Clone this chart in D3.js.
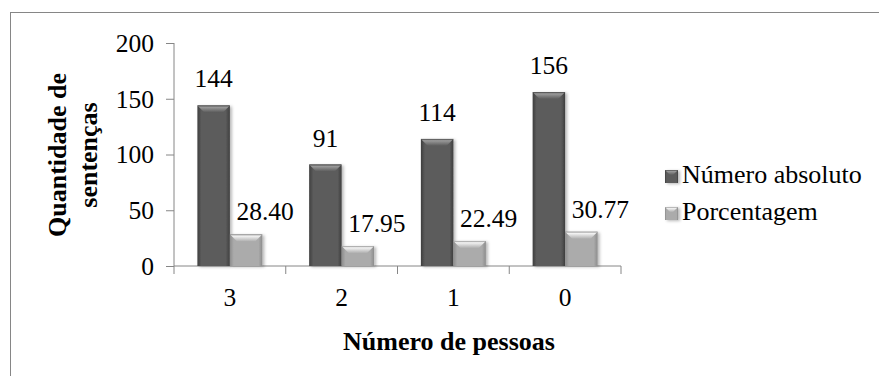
<!DOCTYPE html>
<html>
<head>
<meta charset="utf-8">
<script src="https://cdn.jsdelivr.net/npm/d3@7"></script>
<style>
  html, body { margin: 0; padding: 0; background: #fff; }
  svg { display: block; }
  svg text { font-family: "Times New Roman", "Liberation Serif", Tinos, Times, serif; fill: #000; }
</style>
</head>
<body>
<svg id="chart" width="879" height="376"></svg>
<script>
// Categories on the x axis and the two series drawn for each one
const categories = ["3", "2", "1", "0"];
const seriesNames = ["Número absoluto", "Porcentagem"];
const absoluteValues = [144, 91, 114, 156];
const percentValues = [28.40, 17.95, 22.49, 30.77];
const percentLabels = ["28.40", "17.95", "22.49", "30.77"];
const yTicks = [0, 50, 100, 150, 200];
const yTitleLines = ["Quantidade de", "sentenças"];
const xTitle = "Número de pessoas";

const serif = '"Times New Roman", "Liberation Serif", Tinos, Times, serif';
const svg = d3.select("#chart").attr("font-family", serif);
const axisColor = "#868686";

// Outer chart frame (runs past the right and bottom edge of the view)
svg.append("rect")
  .attr("x", 10.5).attr("y", 12.5)
  .attr("width", 1000).attr("height", 500)
  .attr("fill", "none").attr("stroke", axisColor).attr("stroke-width", 1);

const plot = { left: 174, right: 621, top: 43, bottom: 266 };

const y = d3.scaleLinear().domain([0, 200]).range([plot.bottom, plot.top]);
const x = d3.scaleBand().domain(categories).range([plot.left, plot.right]).paddingInner(0).paddingOuter(0);
const xs = d3.scaleBand().domain(seriesNames).range([0, x.bandwidth()]).paddingInner(0).paddingOuter(0.72);

// Gradients for the bevelled bars
const defs = svg.append("defs");
const styles = {
  "Número absoluto": { edge: "#3e3e3e", body: "#5b5b5b", hiTop: "#9a9a9a", hiBot: "#5b5b5b", bevelEdge: "#474747" },
  "Porcentagem":     { edge: "#8c8c8c", body: "#ababab", hiTop: "#f2f2f2", hiBot: "#b0b0b0", bevelEdge: "#959595" }
};
seriesNames.forEach((s, i) => {
  const st = styles[s];
  const hg = defs.append("linearGradient").attr("id", "body" + i).attr("x1", 0).attr("x2", 1).attr("y1", 0).attr("y2", 0);
  hg.append("stop").attr("offset", "0%").attr("stop-color", st.edge);
  hg.append("stop").attr("offset", "12%").attr("stop-color", st.body);
  hg.append("stop").attr("offset", "88%").attr("stop-color", st.body);
  hg.append("stop").attr("offset", "100%").attr("stop-color", st.edge);
  const vg = defs.append("linearGradient").attr("id", "top" + i).attr("x1", 0).attr("x2", 0).attr("y1", 0).attr("y2", 1);
  vg.append("stop").attr("offset", "0%").attr("stop-color", st.bevelEdge);
  vg.append("stop").attr("offset", "25%").attr("stop-color", st.hiTop);
  vg.append("stop").attr("offset", "100%").attr("stop-color", st.hiBot);
});
const shadow = defs.append("filter").attr("id", "shadow").attr("x", "-20%").attr("y", "-20%").attr("width", "150%").attr("height", "150%");
shadow.append("feDropShadow").attr("dx", 2).attr("dy", 1).attr("stdDeviation", 1.6)
  .attr("flood-color", "#000").attr("flood-opacity", 0.28);

// Draws one bevelled bar (body plus lighter chamfer on top)
function bevelBar(g, bx, by, bw, bh, i, bevel) {
  const b = Math.min(bevel, bh / 2, bw / 2);
  g.append("rect").attr("x", bx).attr("y", by).attr("width", bw).attr("height", bh)
    .attr("fill", `url(#body${i})`).attr("filter", "url(#shadow)");
  g.append("path")
    .attr("d", `M${bx},${by} L${bx + bw},${by} L${bx + bw - b},${by + b} L${bx + b},${by + b} Z`)
    .attr("fill", `url(#top${i})`);
}

// Axes
const yAxis = d3.axisLeft(y).tickValues(yTicks).tickSize(8).tickPadding(12).tickFormat(d3.format("d"));
const yG = svg.append("g").attr("transform", `translate(${plot.left},0)`).call(yAxis)
  .attr("font-family", serif).attr("font-size", "25.5px");
yG.select(".domain").attr("stroke", axisColor).attr("d", `M-0,${plot.top}V${plot.bottom}`);
yG.selectAll(".tick line").attr("stroke", axisColor);
yG.selectAll(".tick text").attr("fill", "#000").attr("dy", "0.33em");

const xAxis = d3.axisBottom(x).tickSize(0).tickPadding(22);
const xG = svg.append("g").attr("transform", `translate(0,${plot.bottom})`).call(xAxis)
  .attr("font-family", serif).attr("font-size", "25.5px");
xG.select(".domain").attr("stroke", axisColor).attr("d", `M${plot.left},0H${plot.right}`);
xG.selectAll(".tick text").attr("fill", "#000");

// Category boundary ticks
const bounds = categories.map(c => x(c)).concat([x(categories[categories.length - 1]) + x.step()]);
svg.append("g").selectAll("line").data(bounds).join("line")
  .attr("x1", d => d).attr("x2", d => d)
  .attr("y1", plot.bottom).attr("y2", plot.bottom + 8)
  .attr("stroke", axisColor);

// Bars
const barsG = svg.append("g");
const seriesData = [absoluteValues, percentValues];
seriesData.forEach((vals, si) => {
  vals.forEach((v, ci) => {
    const bx = x(categories[ci]) + xs(seriesNames[si]);
    const by = y(v);
    bevelBar(barsG, bx, by, xs.bandwidth(), plot.bottom - by, si, 7);
  });
});

// Value labels
const labG = svg.append("g").attr("font-size", "25.5px");
absoluteValues.forEach((v, ci) => {
  labG.append("text")
    .attr("x", x(categories[ci]) + xs(seriesNames[0]) + xs.bandwidth() / 2)
    .attr("y", y(v) - 18)
    .attr("text-anchor", "middle")
    .text(v);
});
percentValues.forEach((v, ci) => {
  labG.append("text")
    .attr("x", x(categories[ci]) + xs(seriesNames[1]) + xs.bandwidth() / 2 + 19)
    .attr("y", y(v) - 14)
    .attr("text-anchor", "middle")
    .text(percentLabels[ci]);
});

// Axis titles
const yt = svg.append("text")
  .attr("transform", "translate(0,155) rotate(-90)")
  .attr("text-anchor", "middle")
  .attr("font-size", "26px").attr("font-weight", "bold");
yt.append("tspan").attr("x", 0).attr("y", 66).text(yTitleLines[0]);
yt.append("tspan").attr("x", 0).attr("y", 97).text(yTitleLines[1]);

svg.append("text")
  .attr("x", 449).attr("y", 350)
  .attr("text-anchor", "middle")
  .attr("font-size", "26px").attr("font-weight", "bold")
  .text(xTitle);

// Legend
const legend = svg.append("g");
seriesNames.forEach((s, i) => {
  const ly = 176 + i * 37;
  bevelBar(legend, 665, ly - 6, 13, 13, i, 5);
  legend.append("text")
    .attr("x", 682).attr("y", ly + 7)
    .attr("font-size", "26px")
    .text(s);
});
</script>
</body>
</html>
